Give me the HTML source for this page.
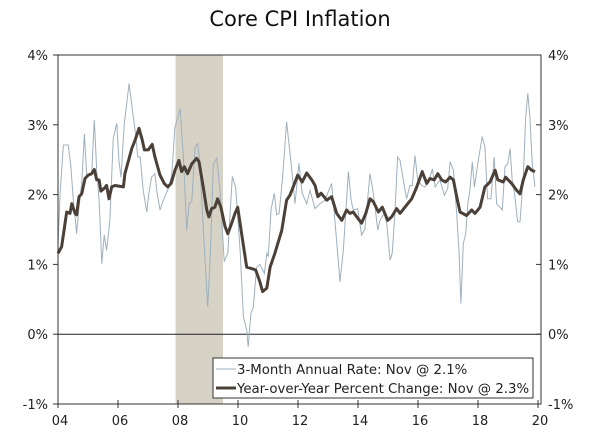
<!DOCTYPE html>
<html><head><meta charset="utf-8"><style>
body{margin:0;background:#fff;}
svg{display:block;font-family:"DejaVu Sans","Liberation Sans",sans-serif;}
</style></head><body>
<svg id="chart" width="600" height="435">
<text x="300" y="26" text-anchor="middle" font-size="21" fill="#111">Core CPI Inflation</text>
<g id="plot"></g>
</svg>
<script>
const recession = [2007.92, 2009.5];
const yTicks = [-1, 0, 1, 2, 3, 4];
const xTickYears = [2004, 2006, 2008, 2010, 2012, 2014, 2016, 2018, 2020];
const xTickLabels = ["04","06","08","10","12","14","16","18","20"];
const yoyDates = [2004.0,2004.12,2004.29,2004.4,2004.46,2004.57,2004.62,2004.7,2004.79,2004.9,2005.01,2005.12,2005.21,2005.29,2005.37,2005.43,2005.54,2005.62,2005.7,2005.79,2005.9,2006.18,2006.23,2006.46,2006.57,2006.7,2006.81,2006.88,2007.01,2007.14,2007.23,2007.4,2007.54,2007.66,2007.77,2007.9,2008.03,2008.12,2008.21,2008.32,2008.46,2008.62,2008.7,2008.84,2008.96,2009.03,2009.12,2009.23,2009.32,2009.43,2009.57,2009.66,2009.79,2009.9,2009.99,2010.12,2010.29,2010.46,2010.59,2010.73,2010.82,2010.96,2011.07,2011.23,2011.46,2011.62,2011.73,2011.84,2011.99,2012.14,2012.29,2012.46,2012.57,2012.66,2012.77,2012.96,2013.12,2013.29,2013.46,2013.62,2013.73,2013.84,2013.96,2014.12,2014.26,2014.4,2014.51,2014.68,2014.81,2014.99,2015.12,2015.29,2015.4,2015.62,2015.79,2015.96,2016.14,2016.29,2016.4,2016.54,2016.66,2016.79,2016.92,2017.07,2017.18,2017.29,2017.4,2017.62,2017.79,2017.9,2018.07,2018.23,2018.4,2018.57,2018.66,2018.84,2018.92,2019.12,2019.29,2019.4,2019.51,2019.66,2019.79,2019.9];
const yoyValues = [1.16,1.25,1.75,1.73,1.87,1.73,1.71,1.97,2.01,2.23,2.28,2.30,2.36,2.21,2.21,2.05,2.09,2.13,1.94,2.11,2.13,2.11,2.30,2.66,2.78,2.95,2.78,2.64,2.64,2.72,2.54,2.28,2.16,2.11,2.16,2.35,2.49,2.33,2.40,2.30,2.44,2.52,2.47,2.11,1.78,1.68,1.80,1.82,1.94,1.82,1.54,1.44,1.59,1.73,1.82,1.44,0.96,0.94,0.92,0.75,0.61,0.66,0.96,1.16,1.49,1.92,1.99,2.11,2.28,2.18,2.31,2.21,2.13,1.97,2.02,1.92,1.97,1.73,1.63,1.78,1.73,1.75,1.68,1.59,1.73,1.94,1.90,1.75,1.82,1.63,1.68,1.80,1.73,1.85,1.94,2.11,2.33,2.16,2.23,2.21,2.30,2.21,2.18,2.25,2.21,1.97,1.75,1.70,1.78,1.73,1.82,2.11,2.18,2.35,2.21,2.18,2.25,2.16,2.06,2.01,2.21,2.40,2.35,2.33];
const m3Dates = [2004.0,2004.07,2004.18,2004.34,2004.43,2004.51,2004.59,2004.62,2004.7,2004.79,2004.88,2004.96,2005.03,2005.12,2005.21,2005.29,2005.37,2005.46,2005.54,2005.62,2005.73,2005.84,2005.96,2006.03,2006.1,2006.21,2006.37,2006.48,2006.57,2006.66,2006.74,2006.84,2006.96,2007.03,2007.12,2007.23,2007.29,2007.4,2007.51,2007.68,2007.79,2007.9,2008.07,2008.18,2008.29,2008.37,2008.46,2008.57,2008.66,2008.73,2008.84,2008.99,2009.07,2009.18,2009.29,2009.4,2009.54,2009.66,2009.81,2009.92,2010.07,2010.18,2010.29,2010.34,2010.43,2010.51,2010.62,2010.73,2010.88,2010.96,2011.01,2011.1,2011.21,2011.29,2011.37,2011.48,2011.62,2011.77,2011.9,2012.03,2012.14,2012.29,2012.4,2012.57,2012.73,2012.9,2013.01,2013.12,2013.23,2013.4,2013.51,2013.68,2013.77,2013.84,2013.99,2014.12,2014.23,2014.4,2014.51,2014.66,2014.73,2014.88,2014.96,2015.07,2015.14,2015.23,2015.32,2015.4,2015.51,2015.62,2015.73,2015.81,2015.9,2015.99,2016.12,2016.23,2016.34,2016.48,2016.57,2016.73,2016.88,2016.99,2017.07,2017.18,2017.29,2017.37,2017.43,2017.51,2017.59,2017.66,2017.73,2017.81,2017.88,2018.01,2018.14,2018.23,2018.32,2018.43,2018.54,2018.62,2018.73,2018.81,2018.9,2018.99,2019.07,2019.14,2019.23,2019.32,2019.4,2019.51,2019.59,2019.66,2019.73,2019.81,2019.9];
const m3Values = [1.25,2.02,2.71,2.71,2.40,1.92,1.59,1.44,1.82,2.16,2.87,2.25,2.30,2.28,3.07,2.35,1.92,1.01,1.42,1.20,1.63,2.80,3.02,2.49,2.25,3.02,3.59,3.21,2.92,2.54,2.54,2.06,1.75,2.02,2.25,2.30,2.06,1.78,1.92,2.09,2.28,2.97,3.23,2.54,1.49,1.87,1.90,2.68,2.73,2.44,1.54,0.39,1.06,2.44,2.52,2.06,1.04,1.16,2.26,2.11,1.20,0.25,0.06,-0.18,0.30,0.39,0.96,1.00,0.87,1.16,1.11,1.78,2.02,1.71,1.73,2.21,3.04,2.45,1.87,2.45,2.02,1.87,2.06,1.80,1.87,1.92,2.04,2.16,1.63,0.75,1.20,2.33,1.92,1.78,1.80,1.42,1.51,2.30,2.02,1.49,1.63,1.73,1.58,1.06,1.16,1.73,2.54,2.49,2.21,1.94,2.13,2.13,2.56,2.21,2.13,2.11,2.16,2.37,2.11,2.21,1.99,2.09,2.47,2.35,1.73,1.16,0.44,1.30,1.44,1.87,2.06,2.47,2.11,2.49,2.83,2.68,1.94,1.94,2.54,1.87,1.82,1.78,2.40,2.44,2.66,2.21,1.97,1.61,1.61,2.25,3.11,3.45,3.11,2.44,2.11];

const L=58, R=541, T=55, B=404;
const X0=2004, X1=2020.1, Y0=-1, Y1=4;
const xs = v => L + (v - X0) / (X1 - X0) * (R - L);
const ys = v => B - (v - Y0) / (Y1 - Y0) * (B - T);
const NS="http://www.w3.org/2000/svg";
const g=document.getElementById('plot');
function mk(tag, attrs){const e=document.createElementNS(NS,tag);for(const k in attrs)e.setAttribute(k,attrs[k]);g.appendChild(e);return e;}

const rec=mk('rect',{x:xs(recession[0]),y:T,width:xs(recession[1])-xs(recession[0]),height:B-T,fill:'#d6d2c6'});



const zl=mk('line',{x1:L,x2:R,y1:ys(0),y2:ys(0),stroke:'#222','stroke-width':1});



function pathFrom(d,v){return d.map((t,i)=>(i?'L':'M')+xs(t).toFixed(1)+','+ys(v[i]).toFixed(1)).join('');}
const p3=mk('path',{d:pathFrom(m3Dates,m3Values),fill:'none',stroke:'#9fb0bd','stroke-width':1});


const py=mk('path',{d:pathFrom(yoyDates,yoyValues),fill:'none',stroke:'#4a4038','stroke-width':3,'stroke-linejoin':'round'});



const fr=mk('rect',{x:L,y:T,width:R-L,height:B-T,fill:'none',stroke:'#333','stroke-width':1});



yTicks.forEach(v=>{
  const y=ys(v);
  const t1=mk('line',{x1:L-5,x2:L,y1:y,y2:y,stroke:'#333'});
  
  
  const t2=mk('line',{x1:R-5,x2:R,y1:y,y2:y,stroke:'#333'});
  
  
  const a=mk('text',{x:L-10,y:y+5,'text-anchor':'end','font-size':13,fill:'#222'});
  a.textContent=v+'%';
  
  
  const b=mk('text',{x:R+7,y:y+5,'text-anchor':'start','font-size':13,fill:'#222'});
  b.textContent=v+'%';
  
  
});
xTickYears.forEach((yr,i)=>{
  const x=xs(yr);
  const t=mk('line',{x1:x,x2:x,y1:B-4,y2:B+4,stroke:'#333'});
  
  
  const lb=mk('text',{x:x+2,y:B+21,'text-anchor':'middle','font-size':13,fill:'#222'});
  lb.textContent=xTickLabels[i];
  
  
});

const lg=mk('rect',{x:213,y:358,width:320,height:40,fill:'#fff',stroke:'#333','stroke-width':1});


const l1=mk('line',{x1:216,x2:236,y1:369,y2:369,stroke:'#9fb0bd','stroke-width':1});


const t1=mk('text',{x:237,y:374,'font-size':13.3,fill:'#222'});
t1.textContent='3-Month Annual Rate: Nov @ 2.1%';


const l2=mk('line',{x1:216,x2:236,y1:388,y2:388,stroke:'#4a4038','stroke-width':3});


const t2=mk('text',{x:237,y:393,'font-size':13.3,fill:'#222'});
t2.textContent='Year-over-Year Percent Change: Nov @ 2.3%';


</script>
</body></html>
